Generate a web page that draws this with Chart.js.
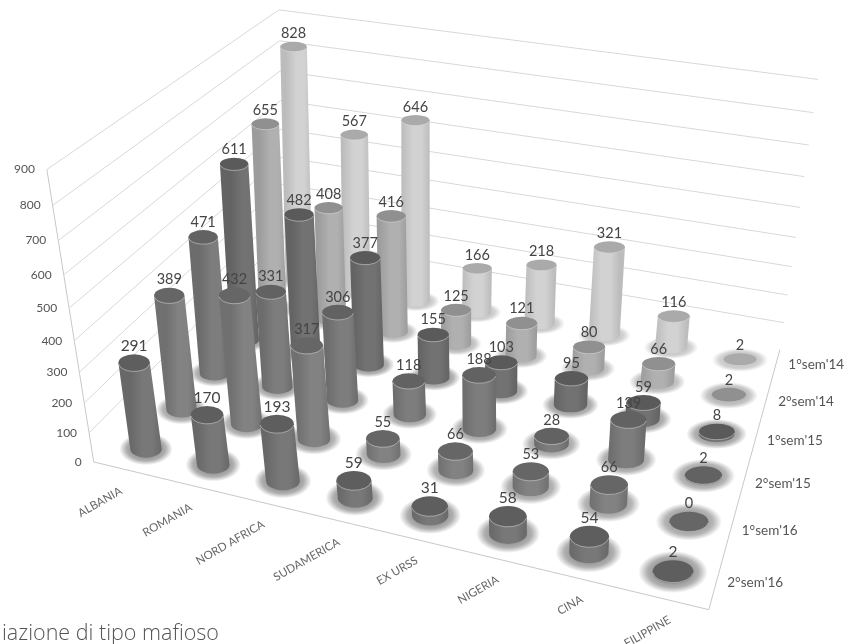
<!DOCTYPE html>
<html>
<head>
<meta charset="utf-8">
<style>
  html, body { margin: 0; padding: 0; background: #fff; }
  #wrap { position: relative; width: 850px; height: 644px; overflow: hidden; }
  #chart { filter: blur(0.65px); }
  #note { position: absolute; left: 2px; top: 617px; font: 300 21.5px "Open Sans", sans-serif; color: #555; filter: blur(0.4px); }
</style>
<script src="https://cdn.jsdelivr.net/npm/chart.js@4"></script>
</head>
<body>
<div id="wrap">
  <canvas id="chart" width="850" height="644"></canvas>
  <div id="note">iazione di tipo mafioso</div>
</div>
<script>
const categories = ["ALBANIA", "ROMANIA", "NORD AFRICA", "SUDAMERICA", "EX URSS", "NIGERIA", "CINA", "FILIPPINE"];
// righe dal fondo verso il davanti
const semesters = ["1°sem'14", "2°sem'14", "1°sem'15", "2°sem'15", "1°sem'16", "2°sem'16"];
const sem1of14 = [828, 567, 646, 166, 218, 321, 116, 2];
const sem2of14 = [655, 408, 416, 125, 121, 80, 66, 2];
const sem1of15 = [611, 482, 377, 155, 103, 95, 59, 8];
const sem2of15 = [471, 331, 306, 118, 188, 28, 139, 2];
const sem1of16 = [389, 432, 317, 55, 66, 53, 66, 0];
const sem2of16 = [291, 170, 193, 59, 31, 58, 54, 2];
const seriesValues = [sem1of14, sem2of14, sem1of15, sem2of15, sem1of16, sem2of16];
const valueTicks = [0, 100, 200, 300, 400, 500, 600, 700, 800, 900];

const bodyColors = ["#d2d2d2", "#b0b0b0", "#727272", "#7d7d7d", "#828282", "#787878"];
const edgeColors = ["#bcbcbc", "#9c9c9c", "#636363", "#6c6c6c", "#707070", "#686868"];
const capColors = ["#aaaaaa", "#909090", "#5a5a5a", "#626262", "#666666", "#5e5e5e"];
const haloColors = ["#c2c2c2", "#b2b2b2", "#989898", "#9c9c9c", "#9c9c9c", "#929292"];

// omografia dal rettangolo (col, riga) al piano della figura
function makeHomography(p00, p10, p01, p11, w, h) {
  const dx1 = p10[0] - p11[0], dx2 = p01[0] - p11[0], sx = p00[0] - p10[0] + p11[0] - p01[0];
  const dy1 = p10[1] - p11[1], dy2 = p01[1] - p11[1], sy = p00[1] - p10[1] + p11[1] - p01[1];
  const det = dx1 * dy2 - dx2 * dy1;
  const g = (sx * dy2 - dx2 * sy) / det, k = (dx1 * sy - sx * dy1) / det;
  const a = p10[0] - p00[0] + g * p10[0], b = p01[0] - p00[0] + k * p01[0];
  const d = p10[1] - p00[1] + g * p10[1], e = p01[1] - p00[1] + k * p01[1];
  return (i, j) => {
    const u = i / w, v = j / h, q = g * u + k * v + 1;
    return [(a * u + b * v + p00[0]) / q, (d * u + e * v + p00[1]) / q];
  };
}

const floorAt = makeHomography([299, 280], [740, 360], [146, 449], [673, 572], 7, 5);
const ceilAt = makeHomography([293, 24], [773, 88], [106, 159], [700, 274], 7, 5);

function project(i, j, value) {
  const t = value / 900, f = t * (0.88 + 0.12 * t);
  const a = floorAt(i, j), b = ceilAt(i, j);
  return { x: a[0] + (b[0] - a[0]) * f, y: a[1] + (b[1] - a[1]) * f };
}

function radiusAt(i, j) {
  const a = floorAt(i - 0.5, j), b = floorAt(i + 0.5, j);
  return Math.hypot(b[0] - a[0], b[1] - a[1]) * 0.205;
}

class CylinderController extends Chart.ScatterController {
  draw() {
    const ds = this.getDataset(), ctx = this.chart.ctx;
    const xs = this.chart.scales.x, ys = this.chart.scales.y;
    ds.data.forEach((pt) => {
      const tx = xs.getPixelForValue(pt.x), ty = ys.getPixelForValue(pt.y);
      const bx = xs.getPixelForValue(pt.bx), by = ys.getPixelForValue(pt.by);
      const rx = pt.rx, ry = pt.ry;
      const grad = ctx.createLinearGradient(bx - rx, 0, bx + rx, 0);
      grad.addColorStop(0, ds.edgeColor);
      grad.addColorStop(0.4, ds.bodyColor);
      grad.addColorStop(0.7, ds.bodyColor);
      grad.addColorStop(1, ds.edgeColor);
      ctx.save();
      ctx.fillStyle = grad;
      ctx.beginPath();
      ctx.moveTo(tx - rx, ty);
      ctx.lineTo(bx - rx, by);
      ctx.ellipse(bx, by, rx, ry, 0, Math.PI, 0, true);
      ctx.lineTo(tx + rx, ty);
      ctx.closePath();
      ctx.fill();
      ctx.fillStyle = ds.capColor;
      ctx.beginPath();
      ctx.ellipse(tx, ty, rx, ry, 0, 0, Math.PI * 2);
      ctx.fill();
      ctx.strokeStyle = "rgba(225,225,225,0.5)";
      ctx.lineWidth = 1;
      ctx.beginPath();
      ctx.ellipse(tx, ty, rx, ry, 0, 0.12, Math.PI - 0.12);
      ctx.stroke();
      ctx.restore();
    });
  }
}
CylinderController.id = "cylinder";
Chart.register(CylinderController);

// aloni alla base, testi e valori
const extrasPlugin = {
  id: "extras",
  beforeDatasetsDraw(chart) {
    const ctx = chart.ctx, xs = chart.scales.x, ys = chart.scales.y;
    chart.data.datasets.filter((d) => d.type === "cylinder").forEach((ds) => {
      ds.data.forEach((pt) => {
        const r = pt.rx * 1.7;
        ctx.save();
        ctx.translate(xs.getPixelForValue(pt.bx), ys.getPixelForValue(pt.by));
        ctx.scale(1, (pt.ry / pt.rx) * 1.1);
        const g = ctx.createRadialGradient(0, 0, pt.rx * 0.8, 0, 0, r);
        g.addColorStop(0, ds.haloColor);
        g.addColorStop(0.5, ds.haloColor + "bb");
        g.addColorStop(1, ds.haloColor + "00");
        ctx.fillStyle = g;
        ctx.beginPath();
        ctx.arc(0, 0, r, 0, Math.PI * 2);
        ctx.fill();
        ctx.restore();
      });
    });
  },
  afterDatasetsDraw(chart) {
    const ctx = chart.ctx, xs = chart.scales.x, ys = chart.scales.y;
    ctx.save();
    ctx.textAlign = "center";
    ctx.textBaseline = "middle";
    chart.data.datasets.filter((d) => d.type === "cylinder").forEach((ds) => {
      ds.data.forEach((pt, k) => {
        ctx.font = ds.labelSize + "px Lato, sans-serif";
        ctx.fillStyle = "#444";
        ctx.fillText(String(ds.values[k]), xs.getPixelForValue(pt.x), ys.getPixelForValue(pt.y) - pt.ry - 8);
      });
    });
    // asse verticale
    ctx.font = "12px Lato, sans-serif";
    ctx.fillStyle = "#555";
    ctx.textAlign = "right";
    valueTicks.forEach((v) => {
      const p = project(-0.5, 5.5, v);
      ctx.fillText(String(v), xs.getPixelForValue(p.x) - 12, ys.getPixelForValue(p.y));
    });
    // categorie, ancorate a destra
    ctx.font = "11.5px Lato, sans-serif";
    ctx.fillStyle = "#666";
    categories.forEach((c, i) => {
      const a = floorAt(i, 5.5);
      ctx.save();
      ctx.translate(xs.getPixelForValue(a[0]) - 6 + i * 1.6, ys.getPixelForValue(a[1]) + 20);
      ctx.rotate(-Math.PI / 6);
      ctx.fillText(c, 0, 0);
      ctx.restore();
    });
    // semestri
    ctx.textAlign = "center";
    ctx.font = "13.5px Lato, sans-serif";
    ctx.fillStyle = "#555";
    semesters.forEach((s, j) => {
      const a = floorAt(8.07 - 0.026 * j, j);
      ctx.fillText(s, xs.getPixelForValue(a[0]), ys.getPixelForValue(a[1]) - 9);
    });
    ctx.restore();
  },
};

function gridLine(points, color) {
  return {
    type: "line", data: points, borderColor: color, borderWidth: 1,
    pointRadius: 0, tension: 0, order: 100,
  };
}

const datasets = [];
valueTicks.slice(1).forEach((v) => {
  datasets.push(gridLine([project(-0.5, 5.5, v), project(-0.5, -0.5, v), project(7.5, -0.5, v)], "#d8d8d8"));
});
datasets.push(gridLine([project(-0.5, 5.5, 900), project(-0.5, 5.5, 0), project(7.5, 5.5, 0), project(7.5, -0.5, 0)], "#c8c8c8"));

seriesValues.forEach((values, j) => {
  datasets.push({
    type: "cylinder",
    values: values,
    bodyColor: bodyColors[j],
    edgeColor: edgeColors[j],
    capColor: capColors[j],
    haloColor: haloColors[j],
    labelSize: j === 5 ? 15.5 : 14.5,
    pointRadius: 0,
    order: 50 - j,
    data: values.map((v, i) => {
      const top = project(i, j, v), base = project(i, j, 0);
      const rx = radiusAt(i, j) * 1.13;
      return { x: top.x, y: top.y, bx: base.x, by: base.y, rx: rx, ry: rx * (0.38 + 0.034 * j) };
    }),
  });
});

new Chart(document.getElementById("chart"), {
  type: "scatter",
  data: { datasets: datasets },
  plugins: [extrasPlugin],
  options: {
    responsive: false,
    animation: false,
    layout: { padding: 0 },
    plugins: { legend: { display: false }, tooltip: { enabled: false } },
    scales: {
      x: { type: "linear", min: 0, max: 850, display: false },
      y: { type: "linear", min: 0, max: 644, reverse: true, display: false },
    },
  },
});
</script>
</body>
</html>
